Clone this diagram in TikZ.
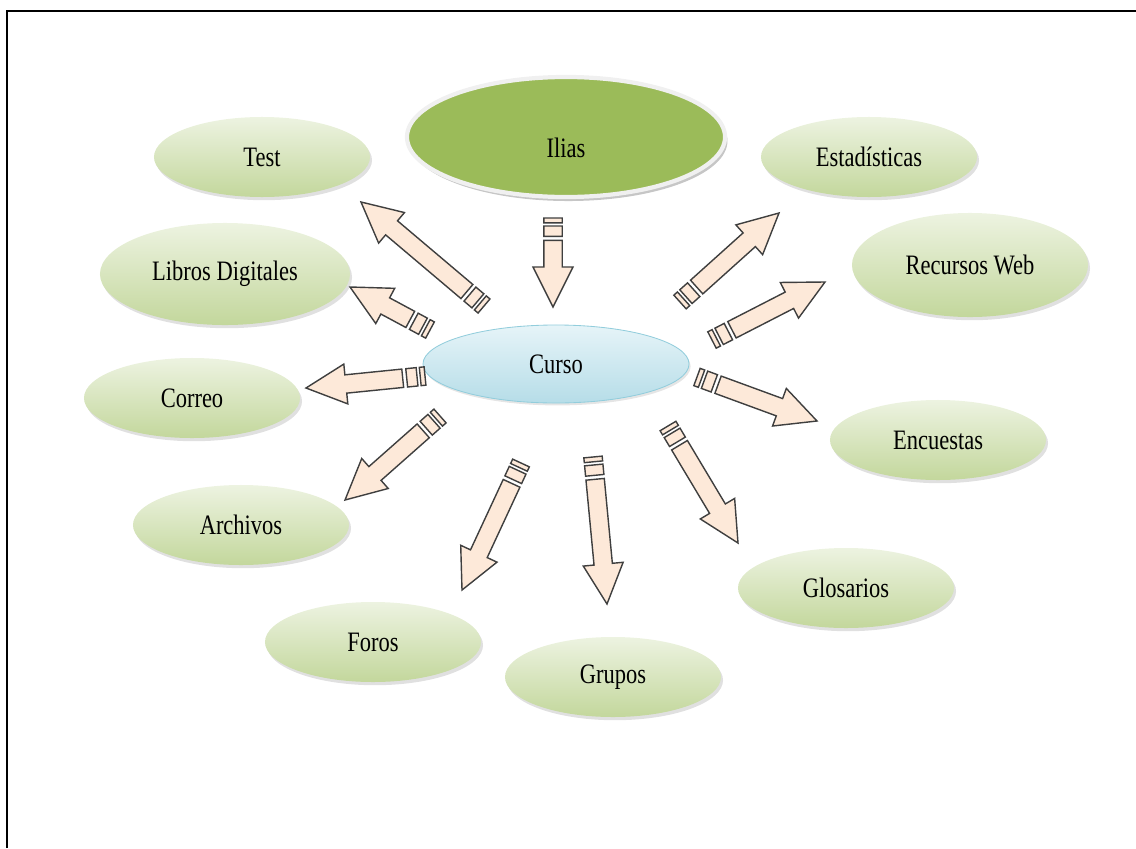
\documentclass[tikz,border=0pt]{standalone}
\usepackage{fontspec}
\newfontfamily\labelfont[FakeStretch=0.8]{Liberation Serif}
\usetikzlibrary{calc,shapes.geometric,shadows}
\definecolor{leafhi}{HTML}{EDF3E1}
\definecolor{leaflo}{HTML}{C3D79C}
\definecolor{iliasgreen}{HTML}{9BBB59}
\definecolor{cursohi}{HTML}{E6F4F8}
\definecolor{cursolo}{HTML}{B6DDE8}
\definecolor{cursoline}{HTML}{92CDDC}
\definecolor{arrowfill}{HTML}{FDE9D9}
\definecolor{arrowline}{HTML}{3F3F3F}
\tikzset{
  labeltext/.style={font=\labelfont\fontsize{20}{24}\selectfont, text=black},
  leaf/.style={ellipse, labeltext, top color=leafhi, bottom color=leaflo,
    minimum width=5.4cm, minimum height=2cm, inner sep=0pt,
    drop shadow={shadow xshift=0.5mm, shadow yshift=-0.8mm, fill=black!40, opacity=0.3}},
  hub/.style={ellipse, labeltext, top color=cursohi, bottom color=cursolo,
    draw=cursoline, line width=0.6pt, inner sep=0pt,
    drop shadow={shadow xshift=0.4mm, shadow yshift=-0.6mm, fill=black!40, opacity=0.25}},
  root/.style={ellipse, labeltext, fill=iliasgreen, draw=black!6, line width=3pt, inner sep=0pt,
    drop shadow={shadow xshift=0.6mm, shadow yshift=-1mm, fill=black!50, opacity=0.45}},
  blockarr/.style={draw=arrowline, fill=arrowfill, line width=1pt, line join=miter,
    to path={
      ($(\tikztostart)!0.56cm!(\tikztotarget)!0.23cm!90:(\tikztotarget)$)
      -- ($(\tikztotarget)!1cm!(\tikztostart)!0.23cm!90:(\tikztotarget)$)
      -- ($(\tikztotarget)!1cm!(\tikztostart)!0.5cm!90:(\tikztotarget)$)
      -- (\tikztotarget)
      -- ($(\tikztotarget)!1cm!(\tikztostart)!0.5cm!-90:(\tikztotarget)$)
      -- ($(\tikztotarget)!1cm!(\tikztostart)!0.23cm!-90:(\tikztotarget)$)
      -- ($(\tikztostart)!0.56cm!(\tikztotarget)!0.23cm!-90:(\tikztotarget)$) -- cycle
      ($(\tikztostart)!0.2cm!(\tikztotarget)!0.23cm!90:(\tikztotarget)$)
      -- ($(\tikztostart)!0.46cm!(\tikztotarget)!0.23cm!90:(\tikztotarget)$)
      -- ($(\tikztostart)!0.46cm!(\tikztotarget)!0.23cm!-90:(\tikztotarget)$)
      -- ($(\tikztostart)!0.2cm!(\tikztotarget)!0.23cm!-90:(\tikztotarget)$) -- cycle
      ($(\tikztostart)!0cm!(\tikztotarget)!0.23cm!90:(\tikztotarget)$)
      -- ($(\tikztostart)!0.12cm!(\tikztotarget)!0.23cm!90:(\tikztotarget)$)
      -- ($(\tikztostart)!0.12cm!(\tikztotarget)!0.23cm!-90:(\tikztotarget)$)
      -- ($(\tikztostart)!0cm!(\tikztotarget)!0.23cm!-90:(\tikztotarget)$) -- cycle
    }},
}

\begin{document}
\begin{tikzpicture}[x=0.025cm, y=-0.025cm]
  \useasboundingbox (0,0) rectangle (1136,848);
  % frame
  \draw[line width=2pt] (7,848) -- (7,11) -- (1136,11);

  % ellipses
  \node[root, minimum width=7.95cm, minimum height=3.0cm] (ilias) at (566,137) {\raisebox{-0.5cm}[0pt][0pt]{Ilias}};
  \node[hub, minimum width=6.65cm, minimum height=1.95cm] (curso) at (556,364) {Curso};
  \node[leaf] (test) at (262,157) {Test};
  \node[leaf] (estad) at (869,157) {Estadísticas};
  \node[leaf, minimum width=6.25cm, minimum height=2.55cm] (libros) at (225,274) {Libros Digitales};
  \node[leaf, minimum width=5.9cm, minimum height=2.6cm] (recursos) at (970,265) {Recursos Web};
  \node[leaf] (correo) at (192,398) {Correo};
  \node[leaf] (encuestas) at (938,440) {Encuestas};
  \node[leaf] (archivos) at (241,525) {Archivos};
  \node[leaf] (glosarios) at (846,588) {Glosarios};
  \node[leaf] (foros) at (373,642) {Foros};
  \node[leaf] (grupos) at (613,677) {Grupos};

  % arrow ends
  \coordinate (ilias-tail) at (553,218);
  \coordinate (ilias-tip) at (553,307);
  \coordinate (test-tail) at (484,306);
  \coordinate (test-tip) at (361,202);
  \coordinate (libros-tail) at (430,330);
  \coordinate (libros-tip) at (350,287);
  \coordinate (correo-tail) at (425,376);
  \coordinate (correo-tip) at (306,388);
  \coordinate (archivos-tail) at (440,416);
  \coordinate (archivos-tip) at (345,500);
  \coordinate (foros-tail) at (521,463);
  \coordinate (foros-tip) at (462,590);
  \coordinate (grupos-tail) at (593,457);
  \coordinate (grupos-tip) at (607,604);
  \coordinate (glosarios-tail) at (668,426);
  \coordinate (glosarios-tip) at (738,543);
  \coordinate (encuestas-tail) at (697,377);
  \coordinate (encuestas-tip) at (817,421);
  \coordinate (recursos-tail) at (712,340);
  \coordinate (recursos-tip) at (825,282);
  \coordinate (estad-tail) at (680,302);
  \coordinate (estad-tip) at (779,213);

  % block arrows
  \foreach \n in {ilias,test,libros,correo,archivos,foros,grupos,glosarios,encuestas,recursos,estad}
    \draw[blockarr] (\n-tail) to (\n-tip);
\end{tikzpicture}
\end{document}
